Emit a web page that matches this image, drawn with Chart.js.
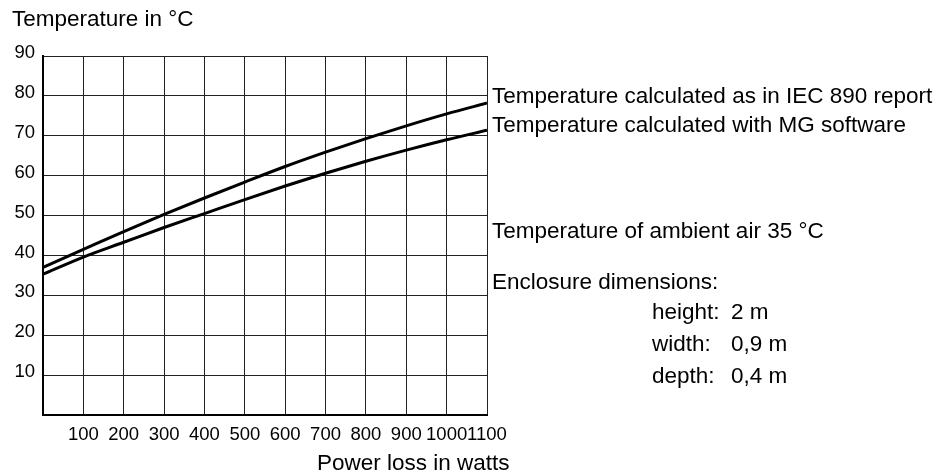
<!DOCTYPE html>
<html>
<head>
<meta charset="utf-8">
<script src="https://cdn.jsdelivr.net/npm/chart.js@4"></script>
<style>
  html, body { margin: 0; padding: 0; background: #fff; }
  #wrap { width: 948px; height: 472px; position: relative; }
</style>
</head>
<body>
<div id="wrap"><canvas id="chart" width="948" height="472"></canvas></div>
<script>
const powerLoss = [0, 100, 200, 300, 400, 500, 600, 700, 800, 900, 1000, 1100];
const tempIEC = [37.0, 41.5, 46.0, 50.3, 54.4, 58.4, 62.3, 65.9, 69.3, 72.5, 75.5, 78.2];
const tempMG = [35.3, 39.6, 43.3, 47.0, 50.5, 54.0, 57.4, 60.6, 63.6, 66.4, 69.0, 71.4];

const yTitle = 'Temperature in °C';
const xTitle = 'Power loss in watts';
const seriesLabels = ['Temperature calculated as in IEC 890 report', 'Temperature calculated with MG software'];
const ambientNote = 'Temperature of ambient air 35 °C';
const dimsTitle = 'Enclosure dimensions:';
const dimNames = ['height:', 'width:', 'depth:'];
const dimValues = ['2 m', '0,9 m', '0,4 m'];

const FONT = '"Liberation Sans", Arial, Helvetica, sans-serif';
const INK = '#000';

const toPoints = (ys) => powerLoss.map((x, i) => ({ x: x, y: ys[i] }));

// free text around the plot
const notes = {
    id: 'notes',
    afterDraw(chart) {
        const ctx = chart.ctx;
        ctx.save();
        ctx.fillStyle = INK;
        ctx.textBaseline = 'alphabetic';
        ctx.textAlign = 'left';
        ctx.font = '22.5px ' + FONT;

        ctx.fillText(yTitle, 12, 26);
        ctx.fillText(xTitle, 317, 470);

        const lx = chart.chartArea.right + 5;
        ctx.fillText(seriesLabels[0], lx, 103);
        ctx.fillText(seriesLabels[1], lx, 132);
        ctx.fillText(ambientNote, lx, 238);
        ctx.fillText(dimsTitle, lx, 289);

        dimNames.forEach((name, i) => {
            const y = 319 + i * 32;
            ctx.fillText(name, 652, y);
            ctx.fillText(dimValues[i], 731, y);
        });
        ctx.restore();
    }
};

new Chart(document.getElementById('chart'), {
    type: 'line',
    data: {
        datasets: [
            {
                label: seriesLabels[0],
                data: toPoints(tempIEC),
                borderColor: INK,
                borderWidth: 3,
                pointRadius: 0,
                cubicInterpolationMode: 'monotone',
                fill: false
            },
            {
                label: seriesLabels[1],
                data: toPoints(tempMG),
                borderColor: INK,
                borderWidth: 3,
                pointRadius: 0,
                cubicInterpolationMode: 'monotone',
                fill: false
            }
        ]
    },
    options: {
        responsive: false,
        animation: false,
        layout: { padding: { top: 56, right: 461, left: 0, bottom: 0 } },
        plugins: {
            legend: { display: false },
            tooltip: { enabled: false }
        },
        scales: {
            x: {
                type: 'linear',
                min: 0,
                max: 1100,
                afterFit: (s) => { s.height = 57; },
                border: { color: INK, width: 2 },
                grid: { color: '#222', lineWidth: 1, drawTicks: false },
                ticks: {
                    stepSize: 100,
                    padding: 9,
                    color: INK,
                    font: { family: FONT, size: 18.5 },
                    maxRotation: 0,
                    autoSkip: false,
                    callback: (v) => v === 0 ? '' : v
                }
            },
            y: {
                min: 0,
                max: 90,
                afterFit: (s) => { s.width = 43; },
                border: { color: INK, width: 2 },
                grid: { color: '#222', lineWidth: 1, drawTicks: false },
                ticks: {
                    stepSize: 10,
                    padding: 8,
                    labelOffset: -3,
                    color: INK,
                    font: { family: FONT, size: 18.5 },
                    callback: (v) => v === 0 ? '' : v
                }
            }
        }
    },
    plugins: [notes]
});
</script>
</body>
</html>
